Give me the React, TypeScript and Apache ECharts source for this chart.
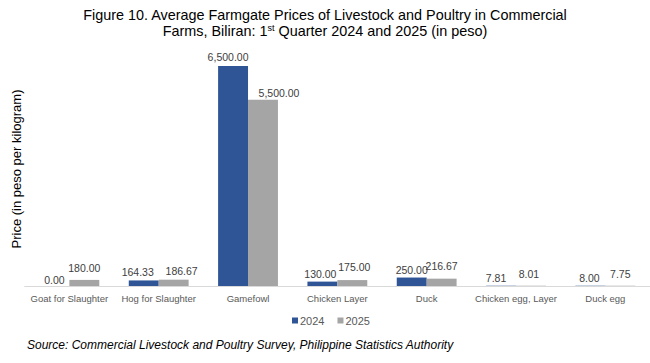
import React, { useEffect, useRef } from "react";
import * as echarts from "echarts";

const categories = [
  "Goat for Slaughter",
  "Hog for Slaughter",
  "Gamefowl",
  "Chicken Layer",
  "Duck",
  "Chicken egg, Layer",
  "Duck egg",
];
const values2024 = [0, 164.33, 6500, 130, 250, 7.81, 8.0];
const values2025 = [180, 186.67, 5500, 175, 216.67, 8.01, 7.75];

// label placement tweaks (style only): [dx, distance]
const labelPos2024 = [[0, 1], [-6, 3], [-5, 4], [-2, 2], [0, 2], [-5, 2], [-1, 2]];
const labelPos2025 = [[0, 6], [8, 3], [16, 1], [2, 8], [0, 7], [-2, 6], [0, 6]];

const FONT = "'Liberation Sans', Arial, sans-serif";
const fmt = (v: number) =>
  v.toLocaleString("en-US", { minimumFractionDigits: 2, maximumFractionDigits: 2 });

export default function App() {
  const ref = useRef<HTMLDivElement>(null);
  useEffect(() => {
    document.body.style.margin = "0";
    const chart = echarts.init(ref.current!, undefined, { renderer: "svg" });
    const mk = (vals: number[], pos: number[][]) =>
      vals.map((v, i) => ({ value: v, label: { offset: [pos[i][0], 0], distance: pos[i][1] } }));
    const labelStyle = {
      show: true,
      position: "top",
      formatter: (p: any) => fmt(p.value),
      fontFamily: FONT,
      fontSize: 10.5,
      color: "#404040",
    };
    chart.setOption({
      animation: false,
      textStyle: { fontFamily: FONT },
      title: {
        text:
          "Figure 10. Average Farmgate Prices of Livestock and Poultry in Commercial\nFarms, Biliran: 1{sup|st} Quarter 2024 and 2025 (in peso)",
        left: "center",
        top: 2,
        textStyle: {
          fontFamily: FONT,
          fontSize: 14.4,
          fontWeight: "normal",
          color: "#000000",
          lineHeight: 16,
          rich: {
            sup: { fontSize: 9, verticalAlign: "top", lineHeight: 12, padding: [0, 0, 5, 0], fontFamily: FONT, color: "#000" },
          },
        },
      },
      legend: {
        data: ["2024", "2025"],
        bottom: 32,
        left: 287,
        icon: "rect",
        itemWidth: 6,
        itemHeight: 6,
        itemGap: 13,
        textStyle: { fontFamily: FONT, fontSize: 11, color: "#595959", padding: [0, 0, 0, -3] },
      },
      grid: { left: 24.7, right: -2, top: 66, bottom: 77, containLabel: false },
      xAxis: {
        type: "category",
        data: categories,
        axisLine: { lineStyle: { color: "#d9d9d9" } },
        axisTick: { show: false },
        axisLabel: { color: "#595959", fontSize: 9.5, fontFamily: FONT, margin: 7, interval: 0 },
      },
      yAxis: {
        type: "value",
        min: 0,
        max: 6500,
        axisLine: { show: false },
        axisTick: { show: false },
        axisLabel: { show: false },
        splitLine: { show: false },
      },
      series: [
        {
          name: "2024",
          type: "bar",
          data: mk(values2024, labelPos2024),
          itemStyle: { color: "#2F5597" },
          barCategoryGap: "33%",
          barGap: "0%",
          label: labelStyle,
        },
        {
          name: "2025",
          type: "bar",
          data: mk(values2025, labelPos2025),
          itemStyle: { color: "#A5A5A5" },
          barCategoryGap: "33%",
          barGap: "0%",
          label: labelStyle,
        },
      ],
      graphic: [
        {
          type: "text",
          x: 16,
          y: 169,
          rotation: Math.PI / 2,
          style: {
            text: "Price (in peso per kilogram)",
            fontFamily: FONT,
            fontSize: 13,
            fill: "#000",
            align: "center",
            verticalAlign: "middle",
          },
        },
        {
          type: "text",
          left: 27,
          top: 339,
          style: {
            text: "Source: Commercial Livestock and Poultry Survey, Philippine Statistics Authority",
            fontFamily: FONT,
            fontSize: 12,
            fontStyle: "italic",
            fill: "#000",
          },
        },
      ],
    });
    return () => chart.dispose();
  }, []);
  return <div ref={ref} style={{ width: 650, height: 363 }} />;
}
